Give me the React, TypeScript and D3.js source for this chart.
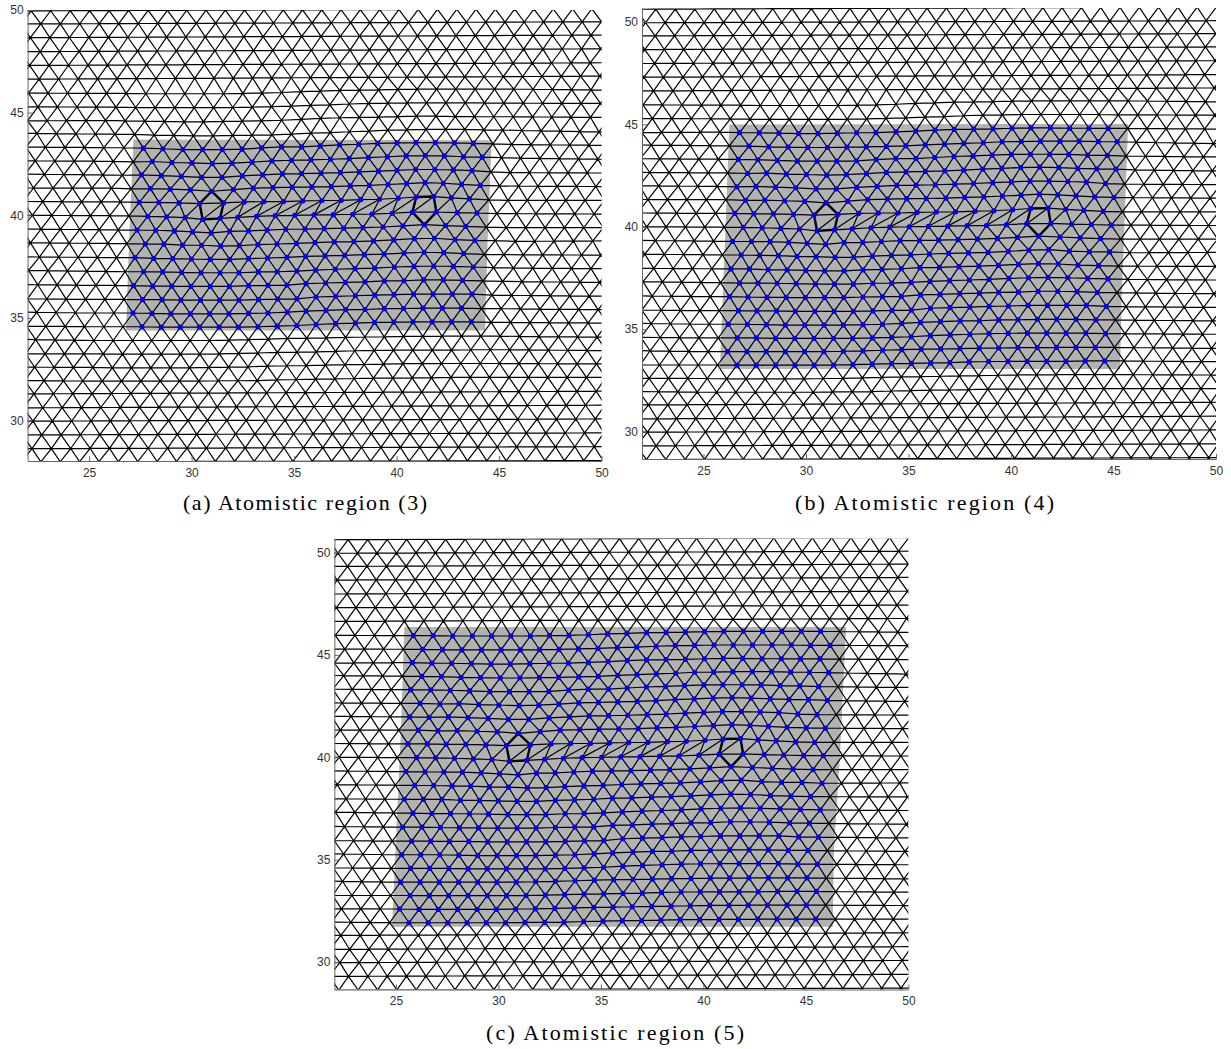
import React, { useEffect, useRef } from 'react';
import * as d3 from 'd3';

// lattice rows, top to bottom. rows 6-27 are read node by node (CORE_*), the others from their ends
const FIRST_ROW = -1;
const LAST_ROW = 33;
const CORE_ROW = 6;
const CORE_COL = -2;

const ROW_Y_LEFT = [
  50.62, 49.96, 49.32, 48.65, 47.97, 47.3, 46.63, 45.95, 45.28, 44.6, 43.99, 43.32, 42.65, 42.0, 41.33, 40.67, 40.0,
  39.33, 38.66, 37.97, 37.32, 36.62, 35.93, 35.28, 34.6, 33.95, 33.25, 32.6, 31.95, 31.3, 30.62, 29.97, 29.3, 28.63, 27.99,
];
const ROW_Y_RIGHT = [
  50.73, 50.06, 49.43, 48.78, 48.11, 47.43, 46.78, 46.1, 45.45, 44.77, 44.06, 43.41, 42.73, 42.06, 41.4, 40.73, 40.06,
  39.4, 38.75, 38.06, 37.4, 36.73, 36.06, 35.4, 34.75, 34.06, 33.41, 32.76, 32.1, 31.43, 30.75, 30.08, 29.4, 28.73, 28.05,
];
// x of column 0 in each row
const ROW_X0 = [
  28.38, 27.88, 28.35, 27.84, 28.32, 27.8, 28.27, 27.76, 28.23, 27.71, 28.17, 27.65, 28.08, 27.56, 27.99, 27.45, 27.86,
  27.34, 27.74, 27.24, 27.66, 27.17, 27.61, 27.14, 27.58, 27.12, 27.55, 27.08, 27.51, 27.04, 27.46, 26.99, 27.41, 26.94, 27.37,
];
const PITCH_LEFT_UPPER = 0.951;
const PITCH_LEFT_LOWER = 0.945;
const PITCH_RIGHT_UPPER = 0.941;
const PITCH_RIGHT_LOWER = 0.946;
const FIRST_COL = -7;
const LAST_COL = 25;

const CORE_X = [
  [25.85, 26.81, 27.77, 28.73, 29.67, 30.61, 31.56, 32.5, 33.44, 34.39, 35.33, 36.27, 37.23, 38.18, 39.12, 40.06, 41.0, 41.95, 42.89, 43.83, 44.78, 45.72],
  [26.31, 27.27, 28.22, 29.18, 30.13, 31.07, 32.01, 32.96, 33.9, 34.86, 35.8, 36.74, 37.69, 38.63, 39.57, 40.52, 41.46, 42.4, 43.35, 44.29, 45.23, 46.18],
  [25.8, 26.76, 27.72, 28.68, 29.64, 30.58, 31.53, 32.47, 33.41, 34.39, 35.35, 36.29, 37.23, 38.18, 39.12, 40.05, 40.97, 41.92, 42.86, 43.8, 44.74, 45.69],
  [26.26, 27.22, 28.18, 29.13, 30.09, 31.05, 32.0, 32.94, 33.92, 34.87, 35.82, 36.76, 37.7, 38.65, 39.57, 40.5, 41.44, 42.39, 43.33, 44.26, 45.18, 46.11],
  [25.72, 26.7, 27.65, 28.6, 29.58, 30.54, 31.5, 32.46, 33.42, 34.38, 35.37, 36.28, 37.22, 38.15, 39.08, 40.02, 40.95, 41.89, 42.82, 43.74, 44.70, 45.62],
  [26.18, 27.15, 28.08, 29.04, 30.02, 31.01, 31.97, 32.95, 33.92, 34.88, 35.82, 36.77, 37.69, 38.62, 39.55, 40.47, 41.4, 42.33, 43.26, 44.18, 45.12, 46.05],
  [25.67, 26.62, 27.56, 28.52, 29.5, 30.49, 31.48, 32.47, 33.47, 34.43, 35.37, 36.31, 37.26, 38.18, 39.11, 40.02, 40.93, 41.86, 42.77, 43.68, 44.61, 45.54],
  [26.09, 27.05, 27.99, 28.96, 29.94, 30.98, 32.04, 33.01, 33.97, 34.91, 35.87, 36.82, 37.74, 38.67, 39.58, 40.49, 41.39, 42.28, 43.17, 44.08, 45.02, 45.95],
  [25.59, 26.53, 27.45, 28.41, 29.39, 30.39, 31.56, 32.57, 33.53, 34.49, 35.42, 36.36, 37.3, 38.25, 39.17, 40.08, 40.96, 41.81, 42.67, 43.55, 44.5, 45.43],
  [26.01, 26.94, 27.86, 28.78, 29.68, 30.54, 31.39, 32.25, 33.17, 34.08, 35.03, 35.97, 36.91, 37.86, 38.8, 39.78, 40.77, 41.94, 42.96, 43.92, 44.89, 45.85],
  [25.49, 26.42, 27.34, 28.25, 29.16, 30.05, 30.96, 31.86, 32.77, 33.68, 34.59, 35.53, 36.47, 37.42, 38.36, 39.34, 40.31, 41.35, 42.39, 43.37, 44.37, 45.35],
  [25.92, 26.84, 27.74, 28.65, 29.56, 30.49, 31.42, 32.33, 33.24, 34.17, 35.11, 36.02, 36.96, 37.92, 38.88, 39.86, 40.87, 41.84, 42.85, 43.82, 44.81, 45.79],
  [25.41, 26.34, 27.24, 28.15, 29.08, 29.99, 30.91, 31.86, 32.78, 33.71, 34.65, 35.56, 36.51, 37.47, 38.43, 39.39, 40.36, 41.34, 42.3, 43.27, 44.27, 45.23],
  [25.83, 26.76, 27.66, 28.59, 29.52, 30.46, 31.39, 32.31, 33.26, 34.18, 35.13, 36.05, 37.01, 37.97, 38.93, 39.89, 40.85, 41.81, 42.77, 43.74, 44.73, 45.7],
  [25.33, 26.27, 27.17, 28.1, 29.03, 29.97, 30.91, 31.84, 32.78, 33.73, 34.65, 35.58, 36.54, 37.5, 38.46, 39.4, 40.36, 41.32, 42.28, 43.22, 44.21, 45.17],
  [25.77, 26.7, 27.61, 28.56, 29.48, 30.43, 31.37, 32.31, 33.26, 34.2, 35.14, 36.07, 37.03, 37.99, 38.93, 39.87, 40.83, 41.78, 42.72, 43.68, 44.65, 45.61],
  [25.28, 26.21, 27.14, 28.07, 28.99, 29.94, 30.88, 31.82, 32.78, 33.73, 34.67, 35.58, 36.56, 37.52, 38.46, 39.4, 40.34, 41.29, 42.23, 43.17, 44.14, 45.1],
  [25.72, 26.65, 27.58, 28.52, 29.45, 30.39, 31.34, 32.28, 33.24, 34.18, 35.13, 36.07, 37.03, 37.99, 38.93, 39.86, 40.8, 41.74, 42.69, 43.65, 44.61, 45.56],
  [25.23, 26.18, 27.12, 28.06, 28.99, 29.93, 30.87, 31.82, 32.78, 33.74, 34.68, 35.62, 36.57, 37.51, 38.45, 39.4, 40.34, 41.28, 42.22, 43.17, 44.11, 45.05],
  [25.69, 26.63, 27.57, 28.52, 29.46, 30.4, 31.35, 32.29, 33.23, 34.18, 35.14, 36.08, 37.02, 37.96, 38.91, 39.85, 40.79, 41.74, 42.68, 43.62, 44.57, 45.51],
  [25.18, 26.13, 27.07, 28.01, 28.96, 29.9, 30.84, 31.8, 32.75, 33.7, 34.65, 35.59, 36.53, 37.48, 38.42, 39.36, 40.31, 41.25, 42.19, 43.13, 44.08, 45.02],
  [25.64, 26.58, 27.53, 28.47, 29.41, 30.35, 31.3, 32.26, 33.2, 34.16, 35.1, 36.05, 36.99, 37.93, 38.87, 39.82, 40.76, 41.7, 42.65, 43.59, 44.53, 45.48],
];
const CORE_Y = [
  [45.94, 45.94, 45.92, 45.92, 45.92, 45.92, 45.92, 45.94, 45.95, 45.98, 46.02, 46.05, 46.08, 46.1, 46.11, 46.13, 46.15, 46.15, 46.15, 46.15, 46.15, 46.15],
  [45.27, 45.25, 45.24, 45.24, 45.24, 45.24, 45.25, 45.27, 45.29, 45.32, 45.35, 45.38, 45.42, 45.45, 45.46, 45.48, 45.48, 45.48, 45.48, 45.48, 45.46, 45.46],
  [44.62, 44.6, 44.59, 44.57, 44.55, 44.55, 44.57, 44.59, 44.6, 44.63, 44.67, 44.72, 44.75, 44.77, 44.78, 44.81, 44.83, 44.83, 44.81, 44.81, 44.8, 44.8],
  [43.95, 43.94, 43.9, 43.89, 43.87, 43.87, 43.89, 43.9, 43.92, 43.95, 44.0, 44.03, 44.07, 44.1, 44.15, 44.16, 44.18, 44.18, 44.18, 44.16, 44.15, 44.13],
  [43.3, 43.29, 43.27, 43.24, 43.2, 43.2, 43.2, 43.22, 43.28, 43.33, 43.33, 43.38, 43.43, 43.46, 43.5, 43.53, 43.54, 43.54, 43.53, 43.5, 43.48, 43.45],
  [42.63, 42.6, 42.62, 42.57, 42.55, 42.52, 42.54, 42.59, 42.65, 42.68, 42.7, 42.73, 42.76, 42.81, 42.85, 42.89, 42.91, 42.89, 42.85, 42.83, 42.81, 42.78],
  [41.97, 41.95, 41.97, 41.93, 41.9, 41.85, 41.85, 41.92, 41.97, 42.02, 42.03, 42.05, 42.08, 42.11, 42.15, 42.19, 42.23, 42.23, 42.21, 42.18, 42.11, 42.08],
  [41.32, 41.29, 41.3, 41.27, 41.24, 41.17, 41.25, 41.32, 41.35, 41.37, 41.38, 41.4, 41.43, 41.46, 41.5, 41.54, 41.59, 41.56, 41.51, 41.46, 41.43, 41.42],
  [40.65, 40.65, 40.63, 40.63, 40.6, 40.57, 40.6, 40.65, 40.67, 40.67, 40.7, 40.72, 40.73, 40.76, 40.78, 40.83, 40.89, 40.91, 40.85, 40.8, 40.75, 40.73],
  [39.98, 39.97, 39.95, 39.92, 39.89, 39.8, 39.85, 39.9, 39.95, 39.98, 40.0, 40.02, 40.03, 40.05, 40.06, 40.1, 40.15, 40.16, 40.13, 40.11, 40.08, 40.08],
  [39.3, 39.29, 39.28, 39.27, 39.24, 39.19, 39.14, 39.22, 39.24, 39.28, 39.32, 39.33, 39.35, 39.37, 39.4, 39.43, 39.48, 39.54, 39.5, 39.46, 39.42, 39.4],
  [38.63, 38.62, 38.6, 38.59, 38.55, 38.54, 38.5, 38.52, 38.57, 38.6, 38.63, 38.67, 38.7, 38.72, 38.75, 38.8, 38.86, 38.88, 38.81, 38.78, 38.77, 38.73],
  [37.95, 37.94, 37.94, 37.9, 37.89, 37.87, 37.85, 37.85, 37.89, 37.92, 37.95, 38.0, 38.02, 38.05, 38.08, 38.11, 38.16, 38.2, 38.18, 38.13, 38.1, 38.08],
  [37.27, 37.25, 37.25, 37.24, 37.22, 37.2, 37.2, 37.2, 37.24, 37.25, 37.28, 37.33, 37.37, 37.4, 37.43, 37.48, 37.51, 37.53, 37.51, 37.48, 37.45, 37.43],
  [36.59, 36.59, 36.57, 36.55, 36.55, 36.54, 36.54, 36.54, 36.57, 36.59, 36.6, 36.67, 36.7, 36.73, 36.76, 36.8, 36.81, 36.85, 36.85, 36.83, 36.8, 36.78],
  [35.9, 35.9, 35.89, 35.89, 35.87, 35.87, 35.87, 35.87, 35.89, 35.92, 35.93, 36.02, 36.05, 36.08, 36.11, 36.13, 36.16, 36.16, 36.16, 36.16, 36.11, 36.1],
  [35.24, 35.24, 35.24, 35.22, 35.2, 35.2, 35.2, 35.2, 35.22, 35.24, 35.28, 35.33, 35.37, 35.4, 35.41, 35.45, 35.46, 35.48, 35.48, 35.48, 35.45, 35.45],
  [34.57, 34.57, 34.57, 34.55, 34.55, 34.55, 34.55, 34.55, 34.57, 34.6, 34.63, 34.68, 34.72, 34.75, 34.78, 34.8, 34.81, 34.81, 34.81, 34.81, 34.78, 34.78],
  [33.9, 33.9, 33.9, 33.9, 33.9, 33.9, 33.9, 33.92, 33.94, 33.97, 34.0, 34.02, 34.03, 34.05, 34.07, 34.08, 34.1, 34.1, 34.11, 34.11, 34.11, 34.11],
  [33.25, 33.24, 33.24, 33.24, 33.24, 33.24, 33.25, 33.27, 33.29, 33.32, 33.33, 33.35, 33.37, 33.4, 33.42, 33.43, 33.43, 33.43, 33.43, 33.45, 33.45, 33.45],
  [32.59, 32.57, 32.57, 32.57, 32.57, 32.57, 32.59, 32.6, 32.62, 32.65, 32.67, 32.68, 32.7, 32.72, 32.73, 32.75, 32.77, 32.77, 32.78, 32.78, 32.78, 32.78],
  [31.92, 31.92, 31.92, 31.92, 31.92, 31.92, 31.94, 31.94, 31.95, 31.98, 32.0, 32.02, 32.03, 32.05, 32.07, 32.07, 32.08, 32.08, 32.1, 32.1, 32.1, 32.1],
];

// the two five-sided cores, as [row, col]
const DEFECT_LEFT = [[13, 3], [14, 4], [15, 4], [15, 3], [14, 3]];
const DEFECT_RIGHT = [[14, 14], [14, 15], [15, 15], [16, 15], [15, 14]];

const X_TICKS = [25, 30, 35, 40, 45, 50];
const Y_TICKS = [30, 35, 40, 45, 50];

const CAPTIONS = ['(a) Atomistic region (3)', '(b) Atomistic region (4)', '(c) Atomistic region (5)'];

// blue rows and columns for each region
const BLUE_ROWS = [[10, 23], [8, 25], [6, 27]];
const BLUE_COLS = [[0, 17], [-1, 18], [-2, 19]];

// outline of the shaded patch in each panel
const PATCHES = [
  [[27.16, 43.69], [44.64, 43.66], [44.44, 38.78], [44.31, 34.39], [26.8, 34.39], [26.95, 38.78]],
  [[26.26, 44.99], [45.71, 45.02], [45.51, 39.37], [45.4, 36.44], [45.32, 33.06], [25.8, 33.06], [26.05, 39.37]],
  [[25.41, 46.36], [46.96, 46.36], [46.66, 40.03], [46.37, 35.5], [46.31, 31.72], [24.81, 31.72], [25.25, 41.35]],
];

const Y_DOMAINS = [[28.03, 50], [28.66, 50.68], [28.66, 50.68]];

const PANELS = [
  { left: 27.6, top: 10, capX: 305, capY: 510, capW: 244 },
  { left: 642, top: 8, capX: 924.5, capY: 510, capW: 259 },
  { left: 334.4, top: 538.5, capX: 615, capY: 1040, capW: 258 },
];
const PLOT_W = 574;
const PLOT_H = 451;

const isCore = (r: number) => r >= CORE_ROW && r < CORE_ROW + CORE_X.length;

// node position in chart units
function node(r: number, j: number): [number, number] {
  const i = r - FIRST_ROW;
  const yl = ROW_Y_LEFT[i];
  const yr = ROW_Y_RIGHT[i];
  const upper = r < 15;
  const pl = upper ? PITCH_LEFT_UPPER : PITCH_LEFT_LOWER;
  const pr = upper ? PITCH_RIGHT_UPPER : PITCH_RIGHT_LOWER;
  if (isCore(r)) {
    const cx = CORE_X[r - CORE_ROW];
    const cy = CORE_Y[r - CORE_ROW];
    const k = j - CORE_COL;
    const last = cx.length - 1;
    if (k >= 0 && k <= last) return [cx[k], cy[k]];
    if (k < 0) {
      const x = cx[0] + k * pl;
      return [x, yl + ((x - 22) / (cx[0] - 22)) * (cy[0] - yl)];
    }
    const x = cx[last] + (k - last) * pr;
    return [x, cy[last] + ((x - cx[last]) / (50 - cx[last])) * (yr - cy[last])];
  }
  const x = ROW_X0[i] + (j < 0 ? j * pl : j * pr);
  return [x, yl + ((x - 22) / 28) * (yr - yl)];
}

const App: React.FC = () => {
  const svgRef = useRef<SVGSVGElement>(null);

  useEffect(() => {
    if (!svgRef.current) return;
    const svg = d3.select(svgRef.current);
    svg.selectAll('*').remove();

    PANELS.forEach((p, idx) => {
      const x = d3.scaleLinear().domain([22, 50]).range([0, PLOT_W]);
      const y = d3.scaleLinear().domain(Y_DOMAINS[idx]).range([PLOT_H, 0]);
      const px = (n: [number, number]) => [x(n[0]), y(n[1])] as [number, number];

      const g = svg.append('g').attr('transform', `translate(${p.left},${p.top})`);
      const clipId = `clip-${idx}`;
      g.append('clipPath').attr('id', clipId).append('rect').attr('width', PLOT_W).attr('height', PLOT_H);
      const plot = g.append('g').attr('clip-path', `url(#${clipId})`);

      // shaded patch
      plot
        .append('path')
        .attr('d', d3.line().curve(d3.curveLinearClosed)(PATCHES[idx].map(d => px(d as [number, number]))))
        .attr('fill', '#b2b2b2');

      // mesh
      const mesh = d3.path();
      const seg = (a: [number, number], b: [number, number]) => {
        const pa = px(a);
        const pb = px(b);
        mesh.moveTo(pa[0], pa[1]);
        mesh.lineTo(pb[0], pb[1]);
      };
      d3.range(FIRST_ROW, LAST_ROW + 1).forEach(r => {
        d3.range(FIRST_COL, LAST_COL + 1).forEach(j => {
          if (j < LAST_COL) seg(node(r, j), node(r, j + 1));
          if (r < LAST_ROW) {
            const even = r % 2 === 0;
            seg(node(r, j), node(r + 1, even ? j - 1 : j));
            seg(node(r, j), node(r + 1, even ? j : j + 1));
          }
        });
      });
      plot
        .append('path')
        .attr('d', mesh.toString())
        .attr('fill', 'none')
        .attr('stroke', '#000')
        .attr('stroke-width', 1.2);

      // defects
      const closed = d3.line().curve(d3.curveLinearClosed);
      [DEFECT_LEFT, DEFECT_RIGHT].forEach(defect => {
        plot
          .append('path')
          .attr('d', closed(defect.map(d => px(node(d[0], d[1])))))
          .attr('fill', 'none')
          .attr('stroke', '#000')
          .attr('stroke-width', 2.4);
      });

      // atoms of the region
      const [r0, r1] = BLUE_ROWS[idx];
      const [c0, c1] = BLUE_COLS[idx];
      const atoms = d3.range(r0, r1 + 1).flatMap(r => d3.range(c0, c1 + 1).map(j => px(node(r, j))));
      plot
        .selectAll('.atom')
        .data(atoms)
        .enter()
        .append('circle')
        .attr('class', 'atom')
        .attr('cx', d => d[0])
        .attr('cy', d => d[1])
        .attr('r', 2.6)
        .attr('fill', '#0000ff');

      // axes
      const xAxis = g
        .append('g')
        .attr('transform', `translate(0,${PLOT_H})`)
        .call(d3.axisBottom(x).tickValues(X_TICKS).tickSizeInner(-5).tickSizeOuter(0).tickPadding(7));
      const yAxis = g
        .append('g')
        .call(d3.axisLeft(y).tickValues(Y_TICKS).tickSizeInner(-5).tickSizeOuter(0).tickPadding(4));
      [xAxis, yAxis].forEach(a => {
        a.selectAll('path, line').attr('stroke', '#666').attr('stroke-width', 1);
        a.selectAll('text')
          .attr('fill', '#333')
          .style('font-family', '"Liberation Sans", sans-serif')
          .style('font-size', '12px');
      });

      svg
        .append('text')
        .attr('x', p.capX)
        .attr('y', p.capY)
        .attr('text-anchor', 'middle')
        .attr('textLength', p.capW)
        .attr('lengthAdjust', 'spacing')
        .style('font-family', '"Liberation Serif", serif')
        .style('font-size', '22px')
        .attr('fill', '#000')
        .text(CAPTIONS[idx]);
    });
  }, []);

  return (
    <svg
      ref={svgRef}
      width="1231"
      height="1049"
      style={{ position: 'absolute', left: 0, top: 0, display: 'block', background: '#fff' }}
    />
  );
};

export default App;
